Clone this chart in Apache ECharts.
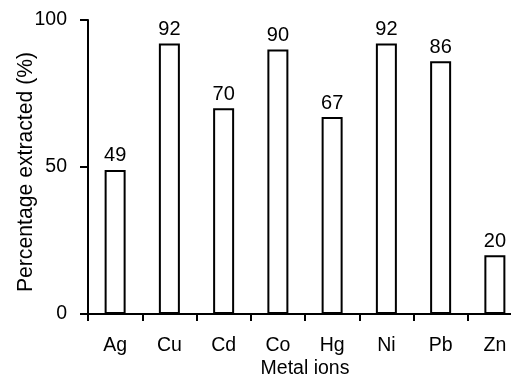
<!DOCTYPE html>
<html>
<head>
<meta charset="utf-8">
<script src="https://cdn.jsdelivr.net/npm/echarts@6/dist/echarts.min.js"></script>
<style>html,body{margin:0;padding:0;background:#fff;overflow:hidden}#c{width:511px;height:383px}</style>
</head>
<body>
<div id="c"></div>
<script>
var categories = ["Ag", "Cu", "Cd", "Co", "Hg", "Ni", "Pb", "Zn"];
var values = [49, 92, 70, 90, 67, 92, 86, 20];
var yTicks = [0, 50, 100];

var chart = echarts.init(document.getElementById('c'), null, {renderer: 'canvas'});
var font = "'Liberation Sans', Arial, sans-serif";
chart.setOption({
  animation: false,
  backgroundColor: '#fff',
  grid: {left: 88, top: 20, width: 434, height: 294, containLabel: false, outerBoundsMode: 'none'},
  xAxis: {
    type: 'category',
    data: categories,
    boundaryGap: true,
    name: 'Metal ions',
    nameLocation: 'middle',
    nameMoveOverlap: false,
    nameGap: 45,
    nameTextStyle: {color: '#000', fontSize: 19.5, fontFamily: font},
    axisLine: {lineStyle: {color: '#000', width: 2}},
    axisTick: {show: true, alignWithLabel: false, length: 7, lineStyle: {color: '#000', width: 2}},
    axisLabel: {color: '#000', fontSize: 19.5, fontFamily: font, margin: 22}
  },
  yAxis: {
    type: 'value',
    min: yTicks[0],
    max: yTicks[yTicks.length - 1],
    interval: 50,
    name: 'Percentage extracted (%)',
    nameLocation: 'middle',
    nameMoveOverlap: false,
    nameRotate: 90,
    nameGap: 51,
    nameTextStyle: {color: '#000', fontSize: 21.2, fontFamily: font, padding: [0, 10, 0, 0]},
    splitLine: {show: false},
    axisLine: {show: true, lineStyle: {color: '#000', width: 2}},
    axisTick: {show: true, length: 8, lineStyle: {color: '#000', width: 2}},
    axisLabel: {color: '#000', fontSize: 19.5, fontFamily: font, margin: 21}
  },
  series: [{
    type: 'bar',
    data: values,
    barWidth: 21,
    itemStyle: {color: '#fff', borderColor: '#000', borderWidth: 2},
    label: {show: true, position: 'top', distance: 4, color: '#000', fontSize: 20, fontFamily: font}
  }]
});
</script>
</body>
</html>
